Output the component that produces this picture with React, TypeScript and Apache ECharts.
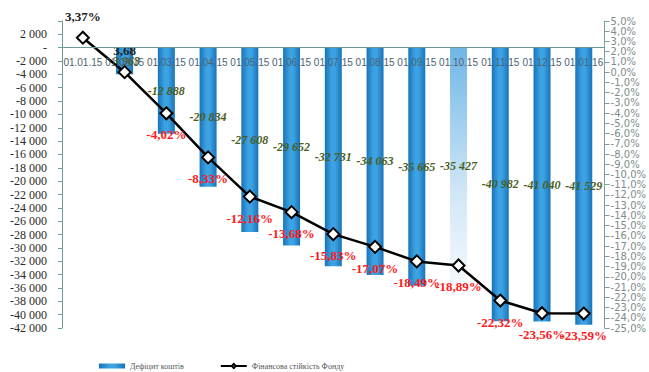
import React, { useEffect, useRef } from "react";
import * as echarts from "echarts";

const categories = [
  "01.01.15", "01.02.15", "01.03.15", "01.04.15", "01.05.15", "01.06.15", "01.07.15",
  "01.08.15", "01.09.15", "01.10.15", "01.11.15", "01.12.15", "01.01.16",
];
const deficit: (number | null)[] = [
  null, -3963, -12888, -20834, -27608, -29652, -32731, -34063, -35665, -35427, -40982, -41040, -41529,
];
const stability = [3.37, 0.0, -4.02, -8.33, -12.16, -13.68, -15.83, -17.07, -18.49, -18.89, -22.32, -23.56, -23.59];
const stabilityLabels = [
  "3,37%", "3,68", "-4,02%", "-8,33%", "-12,16%", "-13,68%", "-15,83%", "-17,07%", "-18,49%", "-18,89%", "-22,32%", "-23,56%", "-23,59%",
];
const seriesNames = ["Дефіцит коштів", "Фінансова стійкість Фонду"];

const LEFT_MIN = -42000;
const LEFT_MAX = 4000;
const GRID_TOP = 21;
const GRID_BOTTOM = 44;
const HEIGHT = 372;

const fmtThousands = (v: number) => {
  const s = Math.abs(Math.round(v)).toString().replace(/\B(?=(\d{3})+(?!\d))/g, " ");
  return (v < 0 ? "-" : "") + s;
};

const barGradient = new echarts.graphic.LinearGradient(0, 0, 1, 0, [
  { offset: 0, color: "#1873b9" },
  { offset: 0.4, color: "#3da2e2" },
  { offset: 0.6, color: "#3da2e2" },
  { offset: 1, color: "#1873b9" },
]);
const fadedGradient = new echarts.graphic.LinearGradient(0, 0, 0, 1, [
  { offset: 0, color: "#6fb6e6" },
  { offset: 0.6, color: "#cfe6f6" },
  { offset: 1, color: "#f4f9fd" },
]);

export default function App() {
  const ref = useRef<HTMLDivElement>(null);
  useEffect(() => {
    if (!ref.current) return;
    const chart = echarts.init(ref.current, null, { renderer: "svg" });
    const plotH = HEIGHT - GRID_TOP - GRID_BOTTOM;
    const zeroOffset = (LEFT_MAX / (LEFT_MAX - LEFT_MIN)) * plotH;
    const barData = deficit.map((v, i) =>
      v === null
        ? "-"
        : i === 9
        ? { value: v, itemStyle: { color: fadedGradient } }
        : { value: v }
    );
    const lineData = stability.map((v, i) => ({
      value: v,
      label:
        i < 2
          ? { position: "top", color: "#222", formatter: stabilityLabels[i] }
          : { position: "bottom", color: "#ff1a1a", formatter: stabilityLabels[i] },
    }));
    chart.setOption({
      animation: false,
      backgroundColor: "#fff",
      grid: { left: 62, right: 42, top: GRID_TOP, bottom: GRID_BOTTOM },
      legend: {
        left: 94,
        top: 357,
        itemWidth: 26,
        itemHeight: 5,
        itemGap: 36,
        textStyle: { fontFamily: "Liberation Serif", fontSize: 8, color: "#555" },
        data: [
          { name: seriesNames[0], icon: "rect" },
          { name: seriesNames[1] },
        ],
      },
      xAxis: {
        type: "category",
        data: categories,
        position: "top",
        offset: -zeroOffset,
        z: 5,
        axisLine: { onZero: false, lineStyle: { color: "#6e9a9a", width: 1 } },
        axisTick: { inside: false, length: 5, lineStyle: { color: "#6e9a9a" } },
        axisLabel: {
          inside: true,
          interval: 0,
          margin: 10,
          fontFamily: "Liberation Sans",
          fontSize: 10,
          color: "#4a6272",
        },
      },
      yAxis: [
        {
          type: "value",
          min: LEFT_MIN,
          max: LEFT_MAX,
          interval: 2000,
          splitLine: { show: false },
          axisLine: { show: true, lineStyle: { color: "#6e9a9a" } },
          axisTick: { show: true, length: 4, lineStyle: { color: "#6e9a9a" } },
          axisLabel: {
            margin: 15,
            fontFamily: "Liberation Serif",
            fontSize: 12,
            color: "#2a2a2a",
            formatter: (v: number) => (v === LEFT_MAX ? "" : v === 0 ? "-" : fmtThousands(v)),
          },
        },
        {
          type: "value",
          min: -25,
          max: 5,
          interval: 1,
          position: "right",
          splitLine: { show: false },
          axisLine: { show: true, lineStyle: { color: "#7fa0a0" } },
          axisTick: { show: true, length: 5, lineStyle: { color: "#7fa0a0" } },
          axisLabel: {
            margin: 6,
            fontFamily: "DejaVu Sans",
            fontSize: 10,
            color: "#7d8c8c",
            formatter: (v: number) => v.toFixed(1).replace(".", ",") + "%",
          },
        },
      ],
      series: [
        {
          name: seriesNames[0],
          type: "bar",
          yAxisIndex: 0,
          barWidth: 17,
          data: barData,
          itemStyle: { color: barGradient },
          label: {
            show: true,
            position: "inside",
            fontFamily: "Liberation Serif",
            fontStyle: "italic",
            fontWeight: "bold",
            fontSize: 12,
            color: "#4b5e22",
            formatter: (p: any) => fmtThousands(p.value),
          },
        },
        {
          name: seriesNames[1],
          type: "line",
          yAxisIndex: 1,
          data: lineData,
          z: 4,
          symbol: "diamond",
          symbolSize: 12,
          lineStyle: { color: "#000", width: 2.5 },
          itemStyle: { color: "#fff", borderColor: "#000", borderWidth: 2 },
          label: {
            show: true,
            distance: 8,
            fontFamily: "Liberation Serif",
            fontWeight: "bold",
            fontSize: 13,
          },
        },
      ],
    });
    return () => chart.dispose();
  }, []);
  return <div ref={ref} style={{ width: 649, height: 372, position: "absolute", left: 0, top: 0 }} />;
}
